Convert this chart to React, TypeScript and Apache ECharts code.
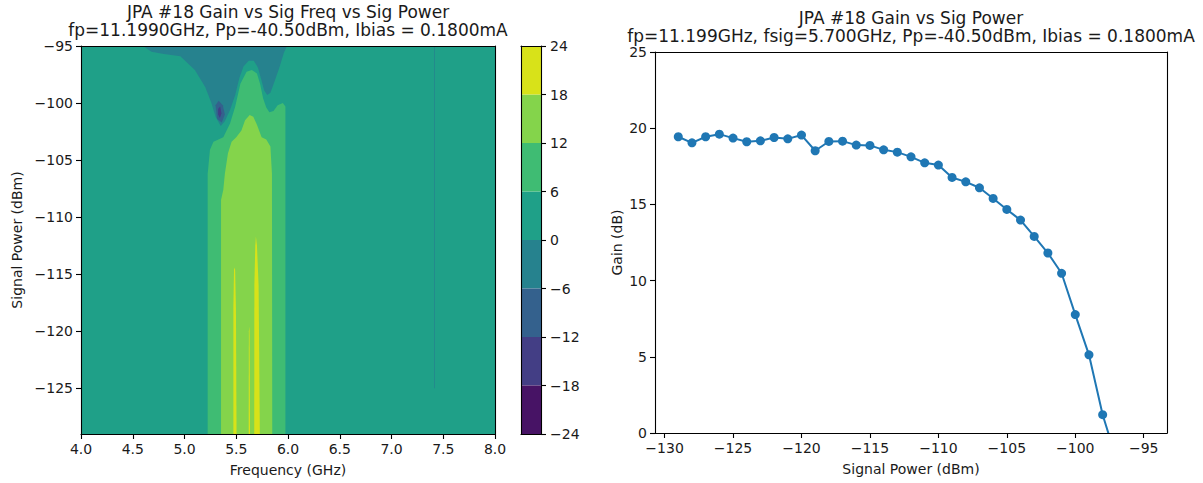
import React, { useEffect, useRef } from 'react';
import * as echarts from 'echarts';

// ---------- Left panel: contour of gain vs frequency and signal power ----------
const freqTicks = [4.0, 4.5, 5.0, 5.5, 6.0, 6.5, 7.0, 7.5, 8.0];
const leftPowerTicks = [-125, -120, -115, -110, -105, -100, -95];
const colorbarTicks = [-24, -18, -12, -6, 0, 6, 12, 18, 24];
// band index i covers [colorbarTicks[i], colorbarTicks[i+1]]
const bandColors = ['#471365', '#433e85', '#34618d', '#26828e', '#1fa088', '#3fbc73', '#84d44b', '#d8e219'];

// region outlines: [frequency GHz, signal power dBm]
const regionZeroToSix = [[4, -95], [8, -95], [8, -129], [4, -129]];
const regionMinusSixToZero = [
  [4.6, -95], [4.68, -95.5], [4.8, -95.7], [4.96, -95.9], [5.1, -97.1], [5.2, -98.6],
  [5.26, -100.0], [5.3, -101.2], [5.35, -102.0], [5.39, -101.6], [5.44, -100.6],
  [5.49, -99.3], [5.53, -97.8], [5.57, -96.8], [5.62, -96.3], [5.67, -96.3],
  [5.71, -96.9], [5.74, -97.9], [5.77, -98.9], [5.8, -99.3], [5.83, -99.1],
  [5.87, -98.1], [5.92, -96.8], [5.96, -95.6], [5.99, -95],
];
const regionTraceAt7p4 = [[7.412, -95], [7.419, -95], [7.419, -125], [7.412, -125]];
const regionMinusTwelveToMinusSix = [
  [5.3, -100.2], [5.33, -99.8], [5.37, -100.2], [5.39, -101.0], [5.36, -101.7], [5.315, -101.4],
];
const regionMinusEighteenToMinusTwelve = [
  [5.325, -100.5], [5.345, -100.3], [5.357, -100.9], [5.342, -101.3], [5.325, -101.0],
];
const regionSixToTwelve = [
  [5.224, -129], [5.224, -106.2], [5.246, -104.1], [5.28, -103.4], [5.375, -103.0],
  [5.44, -101.8], [5.49, -100.3], [5.54, -98.3], [5.6, -97.25], [5.65, -97.1],
  [5.7, -97.4], [5.73, -98.3], [5.76, -99.6], [5.79, -100.4], [5.82, -100.8],
  [5.86, -100.7], [5.9, -100.2], [5.95, -100.0], [5.975, -100.3], [5.975, -129],
];
const regionTwelveToEighteen = [
  [5.353, -129], [5.353, -108.5], [5.375, -107.6], [5.39, -106.2], [5.42, -104.4],
  [5.455, -103.4], [5.5, -103.0], [5.55, -102.4], [5.585, -101.5], [5.63, -101.05],
  [5.665, -101.2], [5.7, -101.9], [5.745, -103.0], [5.79, -103.2], [5.83, -103.8],
  [5.845, -106.2], [5.848, -129],
];
const regionStreakA = [[5.472, -129], [5.472, -118], [5.479, -114.4], [5.489, -114.6], [5.497, -118], [5.503, -129]];
const regionStreakB = [[5.674, -129], [5.675, -116], [5.684, -112.5], [5.69, -111.7], [5.7, -112.5], [5.716, -116], [5.728, -129]];
const regionStreakC = [[5.62, -129], [5.622, -120], [5.628, -119.6], [5.633, -129]];

const contourRegions = [
  { band: 4, pts: regionZeroToSix },
  { band: 3, pts: regionMinusSixToZero },
  { band: 3, pts: regionTraceAt7p4 },
  { band: 2, pts: regionMinusTwelveToMinusSix },
  { band: 1, pts: regionMinusEighteenToMinusTwelve },
  { band: 5, pts: regionSixToTwelve },
  { band: 6, pts: regionTwelveToEighteen },
  { band: 7, pts: regionStreakA },
  { band: 7, pts: regionStreakB },
  { band: 7, pts: regionStreakC },
];

// ---------- Right panel: gain vs signal power ----------
const signalPower = [
  -129, -128, -127, -126, -125, -124, -123, -122, -121, -120, -119, -118,
  -117, -116, -115, -114, -113, -112, -111, -110, -109, -108, -107, -106,
  -105, -104, -103, -102, -101, -100, -99, -98, -97, -96, -95,
];
const gainDb = [
  19.44, 19.04, 19.44, 19.61, 19.35, 19.11, 19.17, 19.39, 19.3, 19.55, 18.52, 19.13,
  19.15, 18.89, 18.87, 18.58, 18.43, 18.12, 17.73, 17.58, 16.77, 16.48, 16.09, 15.39,
  14.67, 13.97, 12.9, 11.81, 10.48, 7.77, 5.13, 1.2, -1.7, -5.5, -9.5,
];
const rightPowerTicks = [-130, -125, -120, -115, -110, -105, -100, -95];
const gainTicks = [0, 5, 10, 15, 20, 25];

const leftTitle = 'JPA #18 Gain vs Sig Freq vs Sig Power\nfp=11.1990GHz, Pp=-40.50dBm, Ibias = 0.1800mA';
const rightTitle = 'JPA #18 Gain vs Sig Power\nfp=11.199GHz, fsig=5.700GHz, Pp=-40.50dBm, Ibias = 0.1800mA';

const FONT = '"DejaVu Sans", sans-serif';
const INK = '#1a1a1a';
const minus = (v: number | string) => String(v).replace('-', '\u2212');

const frameLine = { show: true, onZero: false, lineStyle: { color: '#000', width: 1.1 } };
const tickStyle = { show: true, length: 5, lineStyle: { color: '#000', width: 1.1 } };
const labelStyle = { color: INK, fontSize: 14, fontFamily: FONT };
const nameStyle = { color: INK, fontSize: 14, fontFamily: FONT };
const frameOnly = {
  axisLine: frameLine, axisTick: { show: false }, axisLabel: { show: false }, splitLine: { show: false },
};

export default function App() {
  const ref = useRef<HTMLDivElement>(null);
  useEffect(() => {
    if (!ref.current) return;
    const chart = echarts.init(ref.current, undefined, { renderer: 'svg' });
    const cbSeries: any[] = [];
    [4, 5, 6, 7].forEach((b) => cbSeries.push({ band: b, v: 6 }));
    [3, 2, 1, 0].forEach((b) => cbSeries.push({ band: b, v: -6 }));

    const option: any = {
      animation: false,
      backgroundColor: '#fff',
      textStyle: { fontFamily: FONT },
      graphic: [
        {
          type: 'text', x: 288, y: 3, z: 10,
          style: { text: leftTitle, fill: INK, fontSize: 17, fontFamily: FONT, lineHeight: 18, align: 'center', textAlign: 'center', verticalAlign: 'top' },
        },
        {
          type: 'text', x: 911, y: 9, z: 10,
          style: { text: rightTitle, fill: INK, fontSize: 17, fontFamily: FONT, lineHeight: 18, align: 'center', textAlign: 'center', verticalAlign: 'top' },
        },
      ],
      grid: [
        { left: 81, top: 46, width: 414, height: 388, containLabel: false },
        { left: 521, top: 46, width: 20, height: 388, containLabel: false },
        { left: 655, top: 52, width: 512, height: 381, containLabel: false },
      ],
      xAxis: [
        {
          gridIndex: 0, type: 'value', min: 4, max: 8, interval: 0.5, position: 'bottom', z: 5,
          axisLine: frameLine, axisTick: tickStyle, splitLine: { show: false },
          axisLabel: { ...labelStyle, margin: 8, formatter: (v: number) => v.toFixed(1), customValues: freqTicks },
          name: 'Frequency (GHz)', nameLocation: 'middle', nameGap: 29, nameTextStyle: nameStyle,
        },
        { gridIndex: 0, type: 'value', min: 4, max: 8, position: 'top', z: 5, ...frameOnly },
        {
          gridIndex: 1, type: 'category', data: ['cb'], position: 'bottom', z: 5,
          axisLine: frameLine, axisTick: { show: false }, axisLabel: { show: false }, splitLine: { show: false },
        },
        { gridIndex: 1, type: 'category', data: ['cb'], position: 'top', z: 5, ...frameOnly },
        {
          gridIndex: 2, type: 'value', min: -130.7, max: -93.3, position: 'bottom', z: 5,
          axisLine: frameLine, splitLine: { show: false },
          axisTick: { ...tickStyle, customValues: rightPowerTicks },
          axisLabel: { ...labelStyle, margin: 8, formatter: minus, customValues: rightPowerTicks },
          name: 'Signal Power (dBm)', nameLocation: 'middle', nameGap: 29, nameTextStyle: nameStyle,
        },
        { gridIndex: 2, type: 'value', min: -130.7, max: -93.3, position: 'top', z: 5, ...frameOnly },
      ],
      yAxis: [
        {
          gridIndex: 0, type: 'value', min: -129, max: -95, position: 'left', z: 5,
          axisLine: frameLine, splitLine: { show: false },
          axisTick: { ...tickStyle, customValues: leftPowerTicks },
          axisLabel: { ...labelStyle, margin: 8, formatter: minus, customValues: leftPowerTicks },
          name: 'Signal Power (dBm)', nameLocation: 'middle', nameGap: 57, nameRotate: 90, nameTextStyle: nameStyle,
        },
        { gridIndex: 0, type: 'value', min: -129, max: -95, position: 'right', z: 5, ...frameOnly },
        {
          gridIndex: 1, type: 'value', min: -24, max: 24, interval: 6, position: 'right', z: 5,
          axisLine: frameLine, axisTick: tickStyle, splitLine: { show: false },
          axisLabel: { ...labelStyle, margin: 9, formatter: minus, customValues: colorbarTicks },
        },
        { gridIndex: 1, type: 'value', min: -24, max: 24, position: 'left', z: 5, ...frameOnly },
        {
          gridIndex: 2, type: 'value', min: 0, max: 25, interval: 5, position: 'left', z: 5,
          axisLine: frameLine, axisTick: tickStyle, splitLine: { show: false },
          axisLabel: { ...labelStyle, margin: 8, customValues: gainTicks },
          name: 'Gain (dB)', nameLocation: 'middle', nameGap: 31, nameRotate: 90, nameTextStyle: nameStyle,
        },
        { gridIndex: 2, type: 'value', min: 0, max: 25, position: 'right', z: 5, ...frameOnly },
      ],
      series: [
        {
          type: 'custom', xAxisIndex: 0, yAxisIndex: 0, clip: true, z: 2,
          data: contourRegions.map((r, i) => [r.pts[0][0], r.pts[0][1], i]),
          encode: { x: 0, y: 1 },
          renderItem: (params: any, api: any) => {
            const r = contourRegions[params.dataIndex];
            const points = r.pts.map((p) => api.coord(p));
            return { type: 'polygon', shape: { points }, style: { fill: bandColors[r.band], stroke: null } };
          },
        },
        ...cbSeries.map((s) => ({
          type: 'bar', xAxisIndex: 2, yAxisIndex: 2, stack: 'cb', barWidth: '100%', z: 2,
          data: [s.v], itemStyle: { color: bandColors[s.band] },
        })),
        {
          type: 'line', xAxisIndex: 4, yAxisIndex: 4, clip: true, z: 3,
          data: signalPower.map((p, i) => [p, gainDb[i]]),
          symbol: 'circle', symbolSize: 9, showSymbol: true,
          lineStyle: { color: '#1f77b4', width: 2 },
          itemStyle: { color: '#1f77b4' },
        },
      ],
    };
    chart.setOption(option);
    return () => chart.dispose();
  }, []);
  return <div ref={ref} style={{ position: 'fixed', left: 0, top: 0, width: 1203, height: 483 }} />;
}
